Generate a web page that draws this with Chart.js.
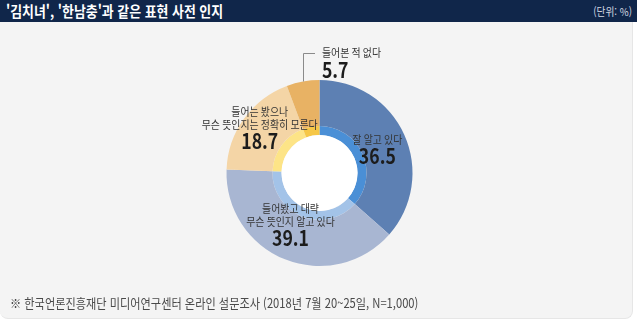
<!DOCTYPE html>
<html lang="ko">
<head>
<meta charset="utf-8">
<script src="https://cdn.jsdelivr.net/npm/chart.js@4.4.1/dist/chart.umd.min.js"></script>
<style>
    html, body { margin: 0; padding: 0; background: #fff; }
    body { width: 637px; height: 324px; position: relative; overflow: hidden; font-family: "Noto Sans CJK KR", sans-serif; }
    .title_bar { position: absolute; left: 0; top: 0; width: 637px; height: 22px; background: #10264a; }
    .title { position: absolute; left: 6px; top: 1px; color: #fff; font-size: 15px; font-weight: bold; line-height: 20px; white-space: nowrap; transform: scaleX(0.86); transform-origin: left top; }
    .unit { position: absolute; right: 5px; top: 3px; color: #d3d8e2; font-size: 11px; line-height: 16px; white-space: nowrap; transform: scaleX(0.88); transform-origin: right top; }
    .panel { position: absolute; left: 0; top: 22px; width: 632px; height: 296px; background: #f4f4f4; border-right: 1px solid #e6e6e6; border-bottom: 1px solid #e6e6e6; border-radius: 0 0 8px 8px; }
    .note { position: absolute; left: 10px; top: 294px; color: #4a4a4a; font-size: 13px; line-height: 17px; white-space: nowrap; transform: scaleX(0.86); transform-origin: left top; }
    #myChart { position: absolute; left: 0; top: 0; }
</style>
</head>
<body>
<div class="panel"></div>
<div class="title_bar">
    <div class="title">'김치녀', '한남충'과 같은 표현 사전 인지</div>
    <div class="unit">(단위: %)</div>
</div>
<canvas id="myChart" width="637" height="324"></canvas>
<div class="note">※ 한국언론진흥재단 미디어연구센터 온라인 설문조사 (2018년 7월 20~25일, N=1,000)</div>
<script>
const categories = [
    ['잘 알고 있다'],
    ['들어봤고 대략', '무슨 뜻인지 알고 있다'],
    ['들어는 봤으나', '무슨 뜻인지는 정확히 모른다'],
    ['들어본 적 없다']
];
const shares = [36.5, 39.1, 18.7, 5.7];
const outerColors = ['#5d80b3', '#a8b6d2', '#f4d5a6', '#e8b264'];
const innerColors = ['#4a8fd6', '#a3c3e8', '#fde487', '#f6c747'];

// nudge of the number from the middle of each ring slice
const labelNudge = [[-6, 11], [-3, -1], [-3, 8]];

const drawText = (ctx, text, x, y, align, sx) => {
    ctx.save();
    ctx.translate(x, y);
    ctx.scale(sx, 1);
    ctx.textAlign = align;
    ctx.fillText(text, 0, 0);
    ctx.restore();
};

const sliceLabels = {
    id: 'sliceLabels',
    afterDatasetsDraw(chart) {
        const ctx = chart.ctx;
        const outer = chart.getDatasetMeta(0);
        const inner = chart.getDatasetMeta(1);
        const hole = inner.data[0];

        ctx.save();
        ctx.fillStyle = '#ffffff';
        ctx.beginPath();
        ctx.arc(hole.x, hole.y, hole.innerRadius, 0, Math.PI * 2);
        ctx.fill();
        ctx.textBaseline = 'middle';

        outer.data.forEach((arc, i) => {
            const mid = (arc.startAngle + arc.endAngle) / 2;
            const lines = categories[i];
            const value = shares[i].toFixed(1);

            if (i < labelNudge.length) {
                const r = (arc.outerRadius + arc.innerRadius) / 2;
                const x = arc.x + Math.cos(mid) * r + labelNudge[i][0];
                const y = arc.y + Math.sin(mid) * r + labelNudge[i][1];
                ctx.fillStyle = '#333333';
                ctx.font = '11px "Noto Sans CJK KR"';
                lines.forEach((line, k) => {
                    drawText(ctx, line, x, y - 15.5 - (lines.length - 1 - k) * 12.5, 'center', 0.9);
                });
                ctx.fillStyle = '#1c1c1c';
                ctx.font = 'bold 21px "Noto Sans CJK KR"';
                drawText(ctx, value, x, y + 1, 'center', 0.84);
            } else {
                const x0 = arc.x + Math.cos(mid) * arc.outerRadius;
                const y0 = arc.y + Math.sin(mid) * arc.outerRadius;
                const yTop = arc.y - arc.outerRadius - 27;
                ctx.strokeStyle = '#8a8a8a';
                ctx.lineWidth = 1;
                ctx.beginPath();
                ctx.moveTo(Math.round(x0) + 0.5, y0);
                ctx.lineTo(Math.round(x0) + 0.5, Math.round(yTop) + 0.5);
                ctx.lineTo(Math.round(x0) + 12, Math.round(yTop) + 0.5);
                ctx.stroke();
                ctx.fillStyle = '#333333';
                ctx.font = '11px "Noto Sans CJK KR"';
                drawText(ctx, lines[0], x0 + 19, yTop, 'left', 0.9);
                ctx.fillStyle = '#1c1c1c';
                ctx.font = 'bold 21px "Noto Sans CJK KR"';
                drawText(ctx, value, x0 + 19, yTop + 17, 'left', 0.84);
            }
        });
        ctx.restore();
    }
};

const ctx = document.getElementById('myChart').getContext('2d');
const myChart = new Chart(ctx, {
    type: 'doughnut',
    data: {
        labels: categories.map(c => c.join(' ')),
        datasets: [{
            data: shares,
            backgroundColor: outerColors,
            borderWidth: 0,
            weight: 46
        }, {
            data: shares,
            backgroundColor: innerColors,
            borderWidth: 0,
            weight: 9
        }]
    },
    options: {
        responsive: false,
        devicePixelRatio: 1,
        animation: false,
        cutout: '40.86%',
        layout: {
            padding: { left: 226.5, right: 224.5, top: 80, bottom: 58 }
        },
        plugins: {
            legend: { display: false },
            tooltip: { enabled: false }
        }
    },
    plugins: [sliceLabels]
});
</script>
</body>
</html>
